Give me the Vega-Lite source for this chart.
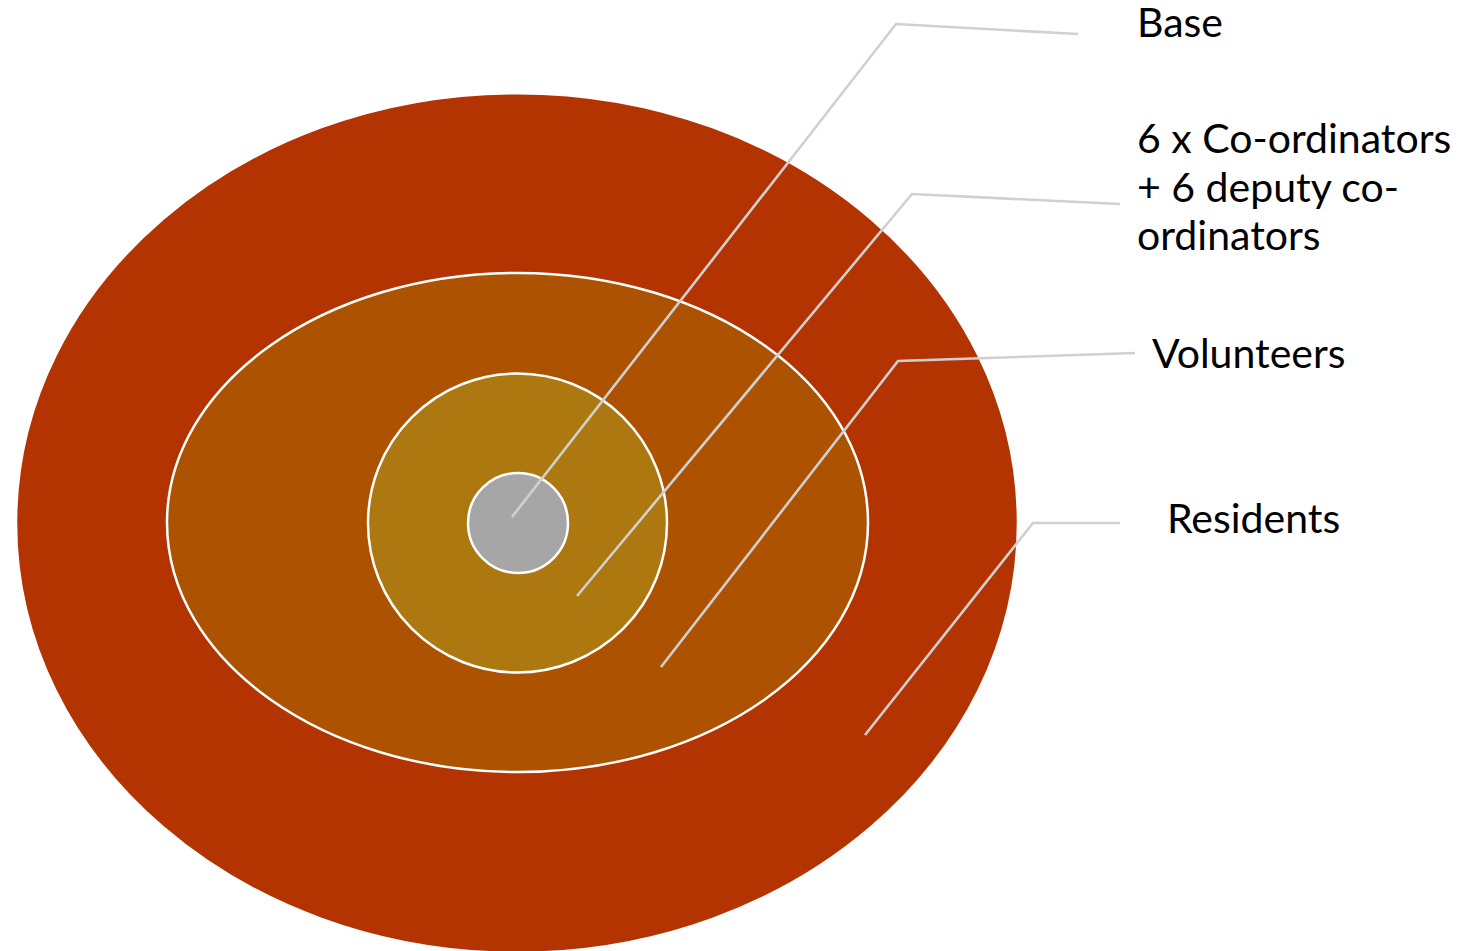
{
  "$schema": "https://vega.github.io/schema/vega-lite/v6.json",
  "width": 1463,
  "height": 951,
  "autosize": {"type": "none"},
  "padding": 0,
  "background": "white",
  "config": {"view": {"stroke": null}},
  "datasets": {
    "rings": [
      {"layer": "Residents", "order": 1, "cx": 517, "cy": 523, "rx": 501},
      {"layer": "Volunteers", "order": 2, "cx": 517.5, "cy": 522.5, "rx": 350.5},
      {"layer": "Co-ordinators", "order": 3, "cx": 517.5, "cy": 523, "rx": 149.5},
      {"layer": "Base", "order": 4, "cx": 518, "cy": 523, "rx": 50}
    ],
    "leaders": [
      {"label": "Base", "seq": 1, "x": 512, "y": 517},
      {"label": "Base", "seq": 2, "x": 896, "y": 24},
      {"label": "Base", "seq": 3, "x": 1078, "y": 34},
      {"label": "Co-ordinators", "seq": 1, "x": 577, "y": 596},
      {"label": "Co-ordinators", "seq": 2, "x": 912, "y": 194},
      {"label": "Co-ordinators", "seq": 3, "x": 1120, "y": 204},
      {"label": "Volunteers", "seq": 1, "x": 661, "y": 667},
      {"label": "Volunteers", "seq": 2, "x": 898, "y": 361},
      {"label": "Volunteers", "seq": 3, "x": 1135, "y": 353},
      {"label": "Residents", "seq": 1, "x": 865, "y": 735},
      {"label": "Residents", "seq": 2, "x": 1033, "y": 523},
      {"label": "Residents", "seq": 3, "x": 1120, "y": 523}
    ],
    "labels": [
      {"text": "Base", "x": 1137, "y": 37},
      {"text": "6 x Co-ordinators\n+ 6 deputy co-\nordinators", "x": 1137, "y": 153},
      {"text": "Volunteers", "x": 1152, "y": 368},
      {"text": "Residents", "x": 1167, "y": 533}
    ]
  },
  "layer": [
    {
      "data": {"name": "rings"},
      "mark": {"type": "point", "filled": true, "opacity": 1, "stroke": "white", "strokeWidth": 2.5, "clip": false},
      "encoding": {
        "x": {"field": "cx", "type": "quantitative", "scale": {"domain": [0, 1463], "nice": false}, "axis": null},
        "y": {"field": "cy", "type": "quantitative", "scale": {"domain": [0, 951], "reverse": true, "nice": false}, "axis": null},
        "size": {"field": "rx", "type": "quantitative", "scale": {"type": "pow", "exponent": 2, "domain": [0, 500], "range": [0, 1000000]}, "legend": null},
        "shape": {"field": "layer", "type": "nominal", "scale": {"domain": ["Residents", "Volunteers", "Co-ordinators", "Base"], "range": ["M -1 0 A 1 0.858 0 1 1 1 0 A 1 0.858 0 1 1 -1 0 Z", "M -1 0 A 1 0.712 0 1 1 1 0 A 1 0.712 0 1 1 -1 0 Z", "circle", "circle"]}, "legend": null},
        "color": {"field": "layer", "type": "nominal", "scale": {"domain": ["Residents", "Volunteers", "Co-ordinators", "Base"], "range": ["#B33400", "#AD5200", "#AC780F", "#A6A6A6"]}, "legend": null},
        "order": {"field": "order", "type": "quantitative"}
      }
    },
    {
      "data": {"name": "leaders"},
      "mark": {"type": "line", "color": "#D0D0D0", "strokeWidth": 2.6},
      "encoding": {
        "x": {"field": "x", "type": "quantitative"},
        "y": {"field": "y", "type": "quantitative"},
        "detail": {"field": "label", "type": "nominal"},
        "order": {"field": "seq", "type": "quantitative"}
      }
    },
    {
      "data": {"name": "labels"},
      "mark": {"type": "text", "align": "left", "baseline": "alphabetic", "font": "Lato", "fontSize": 41, "lineBreak": "\n", "lineHeight": 48.5, "color": "#000000"},
      "encoding": {
        "x": {"field": "x", "type": "quantitative"},
        "y": {"field": "y", "type": "quantitative"},
        "text": {"field": "text", "type": "nominal"}
      }
    }
  ]
}
